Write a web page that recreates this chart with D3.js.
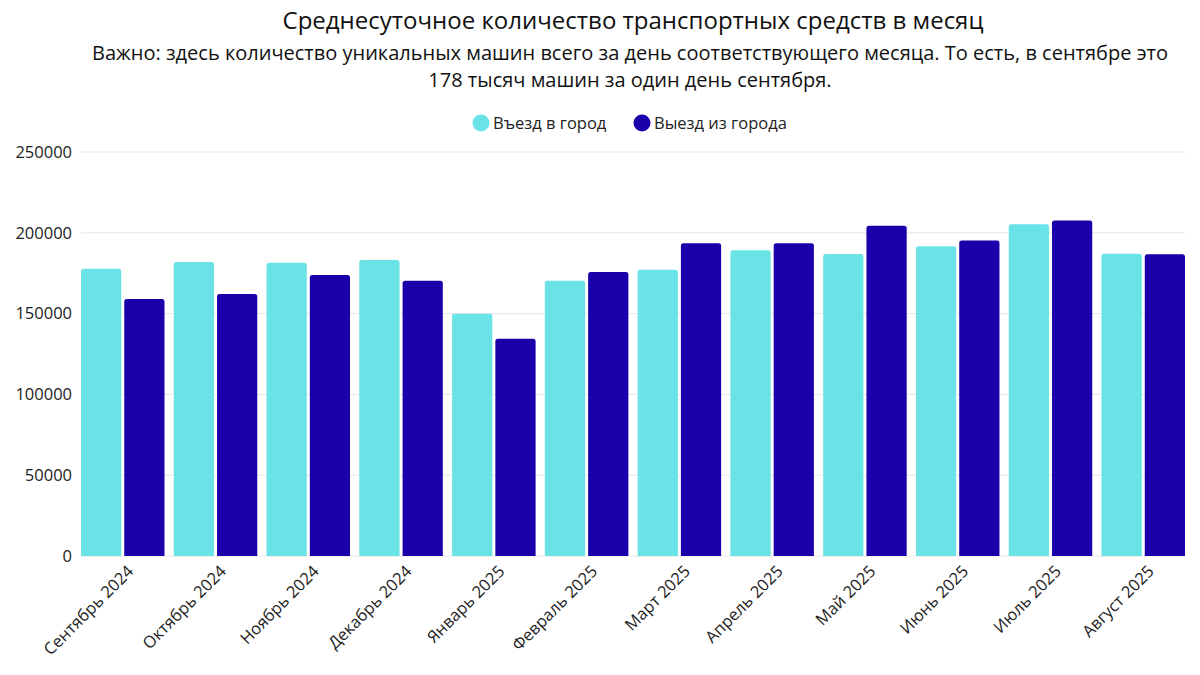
<!DOCTYPE html>
<html lang="ru">
<head>
<meta charset="UTF-8">
<script src="https://d3js.org/d3.v7.min.js"></script>
<title>Среднесуточное количество транспортных средств</title>
<style>
    body { margin: 0; background: #fff; }
    svg { font-family: "Open Sans", "Noto Sans", sans-serif; }
</style>
</head>
<body>
<svg id="chart" width="1200" height="675"></svg>
<script>
    // data
    const months = ["Сентябрь 2024", "Октябрь 2024", "Ноябрь 2024", "Декабрь 2024", "Январь 2025",
        "Февраль 2025", "Март 2025", "Апрель 2025", "Май 2025", "Июнь 2025", "Июль 2025", "Август 2025"]
    const seriesNames = ["Въезд в город", "Выезд из города"]
    const entryValues = [177800, 182000, 181400, 183200, 149900, 170400, 177200, 189200, 186900, 191600, 205300, 187100]
    const exitValues = [159000, 162100, 173900, 170400, 134400, 175800, 193500, 193500, 204300, 195200, 207600, 186700]
    const yTicks = [0, 50000, 100000, 150000, 200000, 250000]

    const colors = ["#6ae3e7", "#1a00aa"]

    const svg = d3.select("#chart")
    const margin = { top: 152, right: 15, bottom: 119, left: 81 }
    const width = 1200 - margin.left - margin.right,
        height = 675 - margin.top - margin.bottom

    const cx = 630

    // titles
    svg.append("text")
        .attr("x", cx + 3).attr("y", 29)
        .attr("text-anchor", "middle")
        .attr("font-size", "24px")
        .attr("fill", "#111")
        .text("Среднесуточное количество транспортных средств в месяц")

    const sub = ["Важно: здесь количество уникальных машин всего за день соответствующего месяца. То есть, в сентябре это",
        "178 тысяч машин за один день сентября."]
    svg.append("text")
        .attr("text-anchor", "middle")
        .attr("font-size", "20px")
        .attr("fill", "#111")
        .selectAll("tspan")
        .data(sub)
        .join("tspan")
        .attr("x", cx)
        .attr("y", (d, i) => 60 + i * 27)
        .text(d => d)

    // legend
    const legend = svg.append("g").attr("transform", "translate(0,123)")
    const legX = [481, 642]
    seriesNames.forEach((name, i) => {
        legend.append("circle")
            .attr("cx", legX[i]).attr("cy", 0).attr("r", 8.5)
            .attr("fill", colors[i])
        legend.append("text")
            .attr("x", legX[i] + 12).attr("y", 6)
            .attr("font-size", "16.5px")
            .attr("fill", "#222")
            .text(name)
    })

    const g = svg.append("g").attr("transform", `translate(${margin.left},${margin.top})`)

    const x0 = d3.scaleBand().domain(months).range([0, width]).paddingInner(0.1).paddingOuter(0)
    const x1 = d3.scaleBand().domain([0, 1]).range([0, x0.bandwidth()]).paddingInner(0.07)
    const y = d3.scaleLinear().domain([0, 250000]).range([height, 0])

    // grid
    g.append("g")
        .selectAll("line")
        .data(yTicks)
        .join("line")
        .attr("x1", 0).attr("x2", width)
        .attr("y1", d => y(d)).attr("y2", d => y(d))
        .attr("stroke", "#e6e6e6")
        .attr("stroke-width", 1)

    // y axis labels
    g.append("g")
        .call(d3.axisLeft(y).tickValues(yTicks).tickSize(0).tickPadding(9).tickFormat(d3.format("d")))
        .call(a => a.select(".domain").remove())
        .call(a => a.selectAll("text")
            .attr("font-size", "16.5px")
            .attr("font-family", "'Open Sans', 'Noto Sans', sans-serif")
            .attr("fill", "#222"))

    // bars
    const rows = months.map((m, i) => ({ month: m, vals: [entryValues[i], exitValues[i]] }))
    const groups = g.selectAll(".grp")
        .data(rows)
        .join("g")
        .attr("class", "grp")
        .attr("transform", d => `translate(${x0(d.month)},0)`)

    groups.selectAll("path")
        .data(d => d.vals.map((v, k) => ({ k, v })))
        .join("path")
        .attr("fill", d => colors[d.k])
        .attr("d", d => {
            const bx = x1(d.k), bw = x1.bandwidth(), by = y(d.v), r = 2.5
            const b = y(0)
            return `M${bx},${b}V${by + r}Q${bx},${by} ${bx + r},${by}H${bx + bw - r}Q${bx + bw},${by} ${bx + bw},${by + r}V${b}Z`
        })

    // x axis
    g.append("g")
        .attr("transform", `translate(0,${height})`)
        .call(d3.axisBottom(x0).tickSize(0).tickPadding(10))
        .call(a => a.select(".domain").remove())
        .call(a => a.selectAll("text")
            .attr("font-size", "16.5px")
            .attr("font-family", "'Open Sans', 'Noto Sans', sans-serif")
            .attr("fill", "#222")
            .attr("text-anchor", "end")
            .attr("dx", "-0.2em")
            .attr("dy", "0.6em")
            .attr("transform", "rotate(-45)"))
</script>
</body>
</html>
